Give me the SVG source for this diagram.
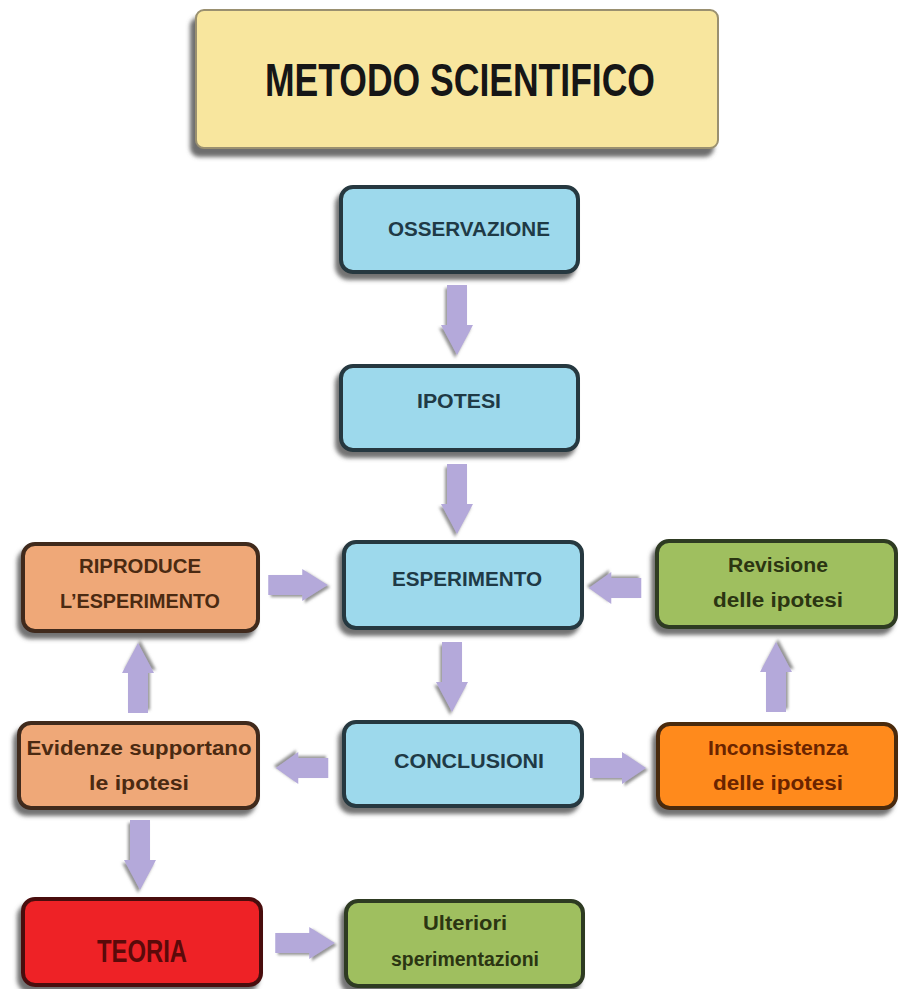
<svg xmlns="http://www.w3.org/2000/svg" width="901" height="989" viewBox="0 0 901 989">
<defs>
<filter id="sh" x="-10%" y="-20%" width="120%" height="150%">
<feDropShadow dx="-4" dy="6" stdDeviation="2" flood-color="#5a5a5a" flood-opacity="0.85"/>
</filter>
<filter id="tsh" x="-10%" y="-20%" width="120%" height="150%">
<feDropShadow dx="-5" dy="8" stdDeviation="2" flood-color="#5e5e5e" flood-opacity="0.9"/>
</filter>
<filter id="ash" x="-30%" y="-30%" width="160%" height="160%">
<feDropShadow dx="-2" dy="3" stdDeviation="1.5" flood-color="#666" flood-opacity="0.7"/>
</filter>
<path id="arrDown" d="M-10,-35 L10,-35 L10,5 L16,5 L0,35 L-16,5 L-10,5 Z"/>
</defs>
<style>
text{font-family:"Liberation Sans",Arial,sans-serif;font-weight:bold;text-anchor:middle}
.box{stroke-width:4;filter:url(#sh)}
.blue{fill:#9DD9EC;stroke:#26393f}
.tan{fill:#EFA878;stroke:#3f2a1c}
.green{fill:#9FBF5E;stroke:#2f3a24}
.orange{fill:#FF8A1C;stroke:#4a2a10}
.red{fill:#EE2025;stroke:#4a1010}
.yellow{fill:#F8E69E;stroke:#9a9070;stroke-width:2;filter:url(#tsh)}
.tb{fill:#1F3A46;font-size:20px}
.tt{fill:#4a2a12;font-size:20px}
.tg{fill:#2b3512;font-size:20px}
.to{fill:#6a2400;font-size:20px}
.arr{fill:#B4A9DA;filter:url(#ash)}
</style>
<g id="title">
<rect class="yellow" x="196" y="10" width="522" height="138" rx="8"/>
<text x="460" y="96" font-size="46" fill="#161616" textLength="390" lengthAdjust="spacingAndGlyphs">METODO SCIENTIFICO</text>
</g>
<g id="osservazione">
<rect class="box blue" x="341" y="187" width="237" height="85" rx="12"/>
<text class="tb" x="469" y="236" textLength="162" lengthAdjust="spacingAndGlyphs">OSSERVAZIONE</text>
</g>
<g id="ipotesi">
<rect class="box blue" x="341" y="366" width="237" height="84" rx="12"/>
<text class="tb" x="459" y="408" textLength="84" lengthAdjust="spacingAndGlyphs">IPOTESI</text>
</g>
<g id="esperimento">
<rect class="box blue" x="344" y="542" width="238" height="86" rx="12"/>
<text class="tb" x="467" y="586" textLength="150" lengthAdjust="spacingAndGlyphs">ESPERIMENTO</text>
</g>
<g id="conclusioni">
<rect class="box blue" x="344" y="722" width="238" height="84" rx="12"/>
<text class="tb" x="469" y="768" textLength="150" lengthAdjust="spacingAndGlyphs">CONCLUSIONI</text>
</g>
<g id="riproduce">
<rect class="box tan" x="23" y="544" width="235" height="87" rx="12"/>
<text class="tt" x="140" y="573" textLength="122" lengthAdjust="spacingAndGlyphs">RIPRODUCE</text>
<text class="tt" x="140" y="608" textLength="160" lengthAdjust="spacingAndGlyphs">L’ESPERIMENTO</text>
</g>
<g id="evidenze">
<rect class="box tan" x="19" y="723" width="239" height="85" rx="12"/>
<text class="tt" x="139" y="755" textLength="225" lengthAdjust="spacingAndGlyphs">Evidenze supportano</text>
<text class="tt" x="139" y="790" textLength="100" lengthAdjust="spacingAndGlyphs">le ipotesi</text>
</g>
<g id="revisione">
<rect class="box green" x="657" y="541" width="239" height="86" rx="12"/>
<text class="tg" x="778" y="572" textLength="100" lengthAdjust="spacingAndGlyphs">Revisione</text>
<text class="tg" x="778" y="607" textLength="130" lengthAdjust="spacingAndGlyphs">delle ipotesi</text>
</g>
<g id="inconsistenza">
<rect class="box orange" x="658" y="724" width="238" height="84" rx="12"/>
<text class="to" x="778" y="755" textLength="140" lengthAdjust="spacingAndGlyphs">Inconsistenza</text>
<text class="to" x="778" y="790" textLength="130" lengthAdjust="spacingAndGlyphs">delle ipotesi</text>
</g>
<g id="teoria">
<rect class="box red" x="23" y="899" width="238" height="86" rx="12"/>
<text x="142" y="962" font-size="32" fill="#5a0a0a" textLength="90" lengthAdjust="spacingAndGlyphs">TEORIA</text>
</g>
<g id="ulteriori">
<rect class="box green" x="346" y="901" width="237" height="85" rx="12"/>
<text class="tg" x="465" y="930" textLength="84" lengthAdjust="spacingAndGlyphs">Ulteriori</text>
<text class="tg" x="465" y="966" textLength="148" lengthAdjust="spacingAndGlyphs">sperimentazioni</text>
</g>
<g id="connectors">
<use href="#arrDown" class="arr" transform="translate(457,320)"/>
<use href="#arrDown" class="arr" transform="translate(457,499)"/>
<use href="#arrDown" class="arr" transform="translate(452,677)"/>
<use href="#arrDown" class="arr" transform="translate(140,855)"/>
<use href="#arrDown" class="arr" transform="translate(138,678) rotate(180)"/>
<use href="#arrDown" class="arr" transform="translate(776,677) rotate(180)"/>
<use href="#arrDown" class="arr" transform="translate(298,585) rotate(-90) scale(1,0.85)"/>
<use href="#arrDown" class="arr" transform="translate(615,588) rotate(90) scale(1,0.75)"/>
<use href="#arrDown" class="arr" transform="translate(302,768) rotate(90) scale(1,0.75)"/>
<use href="#arrDown" class="arr" transform="translate(618,768) rotate(-90) scale(1,0.8)"/>
<use href="#arrDown" class="arr" transform="translate(305,943) rotate(-90) scale(1,0.85)"/>
</g>
</svg>
